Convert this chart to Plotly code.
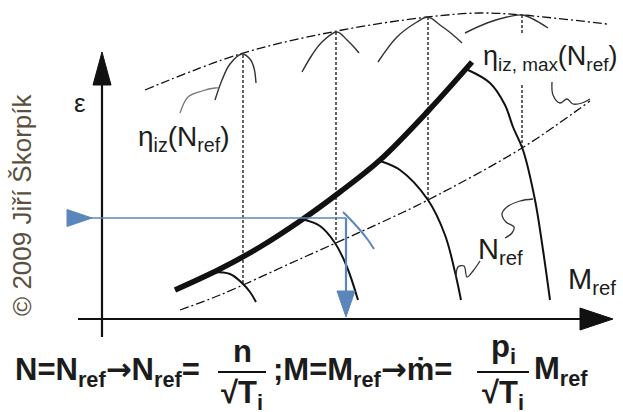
import plotly.graph_objects as go

# ---- data (diagram coordinates: M_ref horizontally, epsilon vertically; origin at axes cross) ----
surge_M = [73, 118, 158, 201, 238, 278, 327, 370]
surge_eps = [29, 50, 72, 100, 127, 159, 209, 257]

speed1_M = [111, 128, 140, 148, 154]
speed1_eps = [47, 45, 36, 27, 17]
speed2_M = [200, 218, 233, 245, 256]
speed2_eps = [100, 93, 76, 52, 19]
speed3_M = [278, 298, 326, 343, 353, 359]
speed3_eps = [158, 149, 119, 84, 47, 19]
speed4_M = [366, 388, 403, 411, 421, 433, 441, 448]
speed4_eps = [249, 236, 214, 192, 169, 119, 69, 19]

lower_M = [78, 118, 198, 278, 326, 420, 488]
lower_eps = [9, 24, 60, 96, 119, 171, 218]
upper_M = [43, 138, 235, 326, 378, 420, 505]
upper_eps = [229, 265, 288, 302, 306, 304, 295]

vert_M = [141, 234, 326, 420]
vert_top = [264, 287, 302, 304]
vert_bot = [35, 77, 119, 171]

arc1_M = [113, 120, 128, 140, 148, 152, 154]
arc1_eps = [219, 239, 255, 265, 260, 251, 236]
arc2_M = [200, 210, 220, 235, 245, 251, 257]
arc2_eps = [247, 264, 277, 287, 279, 273, 266]
arc3_M = [276, 295, 315, 326, 338, 350, 360]
arc3_eps = [257, 282, 297, 302, 294, 285, 276]
arc4_M = [363, 385, 405, 420, 431, 446]
arc4_eps = [286, 296, 302, 304, 300, 291]

lead_iz_M = [78, 86, 100, 113, 117]
lead_iz_eps = [206, 222, 228, 231, 231]
lead_max_M = [450, 451, 458, 465, 471, 480, 488]
lead_max_eps = [237, 224, 216, 220, 215, 216, 220]
lead_n1_M = [354, 356, 362, 365, 371, 378]
lead_n1_eps = [42, 52, 53, 42, 48, 58]
lead_n2_M = [431, 418, 405, 400, 404, 412, 410, 403]
lead_n2_eps = [120, 118, 112, 105, 97, 92, 86, 81]

blue_level = 101
blue_M = 244
blue_arc_M = [241, 246, 258, 266, 272]
blue_arc_eps = [107, 102, 89, 79, 70]

BLACK = "#111111"
GREY = "#333333"
BLUE = "#5b86bb"
FONT = "Liberation Sans, Arial, sans-serif"

fig = go.Figure()


def line(xs, ys, color=BLACK, width=2.0, dash="solid", spline=True):
    fig.add_trace(go.Scatter(x=xs, y=ys, mode="lines",
                             line=dict(color=color, width=width, dash=dash,
                                       shape="spline" if spline else "linear",
                                       smoothing=1.0),
                             hoverinfo="skip", showlegend=False))


def poly(xs, ys, color):
    fig.add_trace(go.Scatter(x=xs, y=ys, mode="lines", fill="toself",
                             fillcolor=color, line=dict(color=color, width=1),
                             hoverinfo="skip", showlegend=False))


# axes
line([0, 0], [-18, 236], width=2.2, spline=False)
poly([-9, 9, 0, -9], [234, 234, 267, 234], BLACK)
line([-24, 480], [0, 0], width=2.2, spline=False)
poly([478, 478, 511, 478], [11, -11, 0, 11], BLACK)

# dash-dot loci
DD = "9px,3px,2px,3px"
line(lower_M, lower_eps, width=1.3, dash=DD)
line(upper_M, upper_eps, width=1.3, dash=DD)

# dashed verticals
for i, (m, t, b) in enumerate(zip(vert_M, vert_top, vert_bot)):
    if i == 3:
        line([m, m], [t, 284], width=1.3, dash="3px,2px", spline=False)
        line([m, m], [234, b], width=1.3, dash="3px,2px", spline=False)
    else:
        line([m, m], [t, b], width=1.3, dash="3px,2px", spline=False)

# efficiency caps
for xs, ys in [(arc1_M, arc1_eps), (arc2_M, arc2_eps), (arc3_M, arc3_eps), (arc4_M, arc4_eps)]:
    line(xs, ys, color=GREY, width=1.4)

# speed lines
for xs, ys in [(speed1_M, speed1_eps), (speed2_M, speed2_eps),
               (speed3_M, speed3_eps), (speed4_M, speed4_eps)]:
    line(xs, ys, width=2.0)

# surge line
line(surge_M, surge_eps, width=5.5)

# leaders
line(lead_iz_M, lead_iz_eps, color="#777777", width=1.3)
line(lead_max_M, lead_max_eps, color=GREY, width=1.3)
line(lead_n1_M, lead_n1_eps, color=GREY, width=1.3)
line(lead_n2_M, lead_n2_eps, color=GREY, width=1.3)

# blue operating point construction
line([-12, blue_M], [blue_level, blue_level], color=BLUE, width=1.6, spline=False)
poly([-35, -35, -10, -35], [109.5, 92.5, blue_level, 109.5], BLUE)
line([blue_M, blue_M], [blue_level, 28], color=BLUE, width=2.2, spline=False)
poly([blue_M - 9, blue_M + 9, blue_M, blue_M - 9], [28, 28, 2, 28], BLUE)
line(blue_arc_M, blue_arc_eps, color=BLUE, width=2.0)

TXT = "#1c1c1c"


def ann(x, y, text, size=28, xanchor="left", yanchor="middle", color=TXT, angle=0, bg=None):
    fig.add_annotation(x=x, y=y, text=text, showarrow=False, xanchor=xanchor,
                       yanchor=yanchor, textangle=angle,
                       font=dict(family=FONT, size=size, color=color),
                       bgcolor=bg, borderpad=0)


ann(-22, 216, "ε", size=26, xanchor="center")
ann(35, 181, "η<sub>iz</sub>(N<sub>ref</sub>)", size=28)
ann(380, 261, "η<sub>iz, max</sub>(N<sub>ref</sub>)", size=27)
ann(375, 68, "N<sub>ref</sub>", size=29)
ann(465, 38, "M<sub>ref</sub>", size=29)
ann(-80, 114, "© 2009 Jiří Škorpík", size=26, xanchor="center", color="#5a5040", angle=-90)

# formula
FS = 31
ARR = "<span style='font-family:DejaVu Sans'>→</span>"
ann(-88, -52, "<b>N=N<sub>ref</sub>" + ARR + "N<sub>ref</sub>=</b>", size=FS)
ann(140, -51, "<b>n</b>", size=FS, xanchor="center", yanchor="bottom")
ann(140, -55, "<b>√T<sub>i</sub></b>", size=FS, xanchor="center", yanchor="top")
ann(170, -52, "<b>;M=M<sub>ref</sub>" + ARR + "ṁ=</b>", size=FS)
ann(401, -51, "<b>p<sub>i</sub></b>", size=FS, xanchor="center", yanchor="bottom")
ann(401, -55, "<b>√T<sub>i</sub></b>", size=FS, xanchor="center", yanchor="top")
ann(431, -52, "<b>M<sub>ref</sub></b>", size=FS)
line([116, 164], [-53, -53], width=2.2, spline=False)
line([375, 427], [-53, -53], width=2.2, spline=False)

fig.update_layout(
    width=623, height=412, margin=dict(l=0, r=0, t=0, b=0),
    paper_bgcolor="white", plot_bgcolor="white",
    xaxis=dict(range=[-102, 521], visible=False, fixedrange=True),
    yaxis=dict(range=[-93, 319], visible=False, fixedrange=True),
    showlegend=False,
)

fig.write_html("out.html", config={"displayModeBar": False},
               post_script="document.body.style.margin='0';document.body.style.overflow='hidden';")
